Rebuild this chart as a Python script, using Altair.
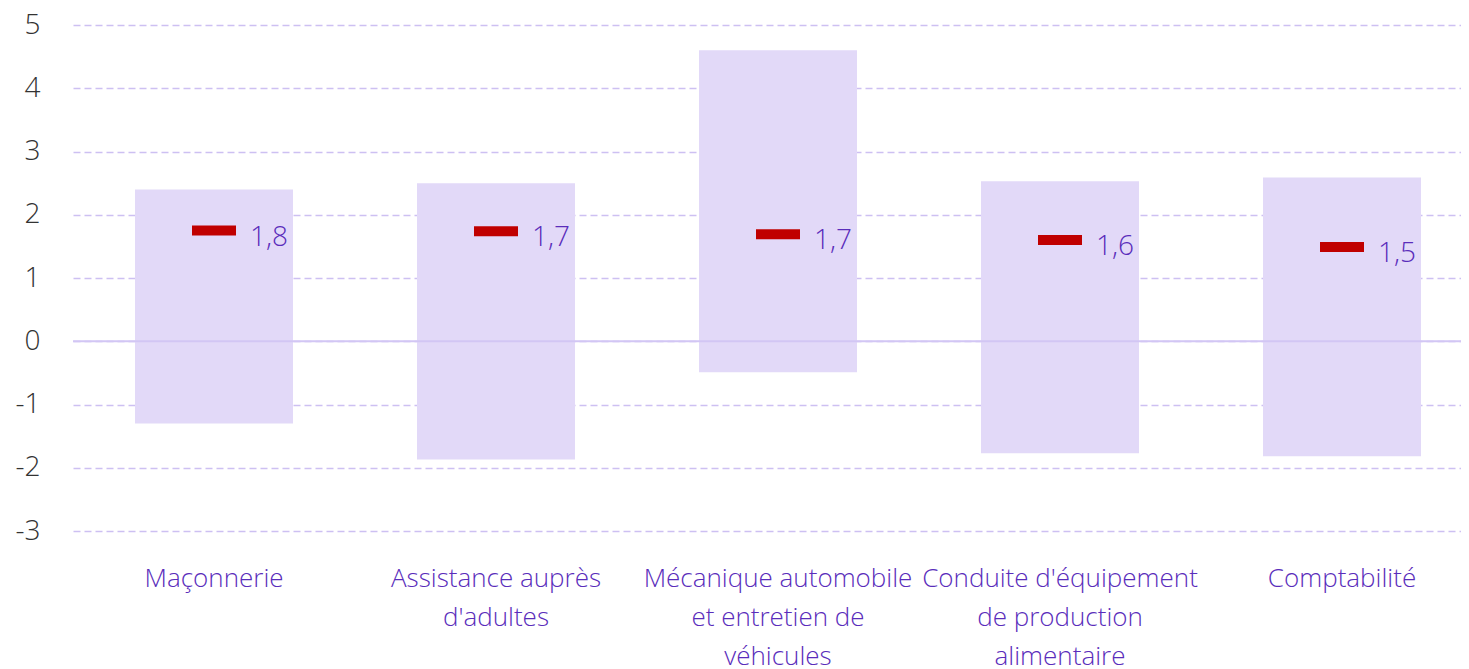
import altair as alt
import pandas as pd

categories = [
    "Maçonnerie",
    "Assistance auprès|d'adultes",
    "Mécanique automobile|et entretien de|véhicules",
    "Conduite d'équipement|de production|alimentaire",
    "Comptabilité",
]
low = [-1.30, -1.87, -0.49, -1.77, -1.82]
high = [2.40, 2.50, 4.60, 2.53, 2.59]
mean = [1.75, 1.74, 1.69, 1.60, 1.49]
mean_labels = ["1,8", "1,7", "1,7", "1,6", "1,5"]
y_ticks = [-3, -2, -1, 0, 1, 2, 3, 4, 5]

df = pd.DataFrame({
    "cat": categories, "low": low, "high": high,
    "mean": mean, "label": mean_labels,
})

FONT = "Open Sans"
PURPLE = "#5a2dbb"

x_enc = alt.X(
    "cat:N", sort=categories, title=None,
    scale=alt.Scale(range=[0, 1410], paddingInner=0, paddingOuter=0),
    axis=alt.Axis(
        labelAngle=0, labelExpr="split(datum.label, '|')",
        labelFont=FONT, labelFontSize=26, labelFontWeight=300,
        labelColor=PURPLE, labelLineHeight=39, labelPadding=34,
        labelBaseline="top", labelLimit=400,
        domain=False, ticks=False, grid=False,
    ),
)
y_scale = alt.Scale(domain=[-3, 5], nice=False, zero=False)

base = alt.Chart(df)

bars = base.mark_bar(color="#e2d9f8", size=158).encode(
    x=x_enc,
    y=alt.Y(
        "low:Q", scale=y_scale, title=None,
        axis=alt.Axis(
            values=y_ticks, labelExpr="toString(datum.value)",
            labelFont=FONT, labelFontSize=28,
            labelFontWeight=300, labelColor="#333333", labelPadding=33,
            domain=False, ticks=False, grid=True,
            gridColor="#cdc0f2", gridDash=[7, 4], gridWidth=1.5,
        ),
    ),
    y2="high:Q",
)

zero = alt.Chart(pd.DataFrame({"z": [0]})).mark_rule(
    color="#d2c6f4", strokeWidth=2
).encode(y=alt.Y("z:Q", scale=y_scale))

ticks = base.mark_tick(color="#c00000", size=44, thickness=10, opacity=1).encode(
    x=alt.X("cat:N", sort=categories),
    y=alt.Y("mean:Q", scale=y_scale),
)

labels = base.mark_text(
    align="left", baseline="middle", dx=36, dy=7,
    font=FONT, fontSize=28, fontWeight=300, color=PURPLE,
).encode(
    x=alt.X("cat:N", sort=categories),
    y=alt.Y("mean:Q", scale=y_scale),
    text="label:N",
)

chart = alt.layer(bars, zero, ticks, labels).properties(
    width=1388, height=506,
    autosize=alt.AutoSizeParams(type="none"),
    padding={"left": 65, "top": 17, "right": 0, "bottom": 138},
).configure_view(stroke=None)

chart.save("out.html", embed_options={"renderer": "svg", "actions": False})
